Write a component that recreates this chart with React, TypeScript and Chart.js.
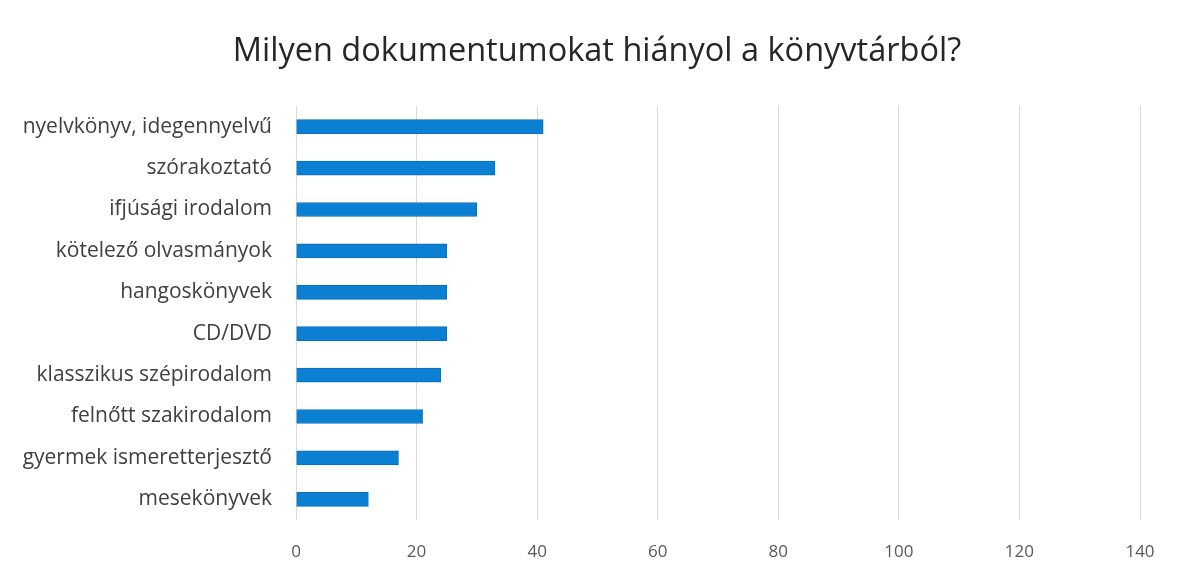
import React, { useEffect, useRef } from "react";
import { Chart, registerables } from "chart.js";

Chart.register(...registerables);

const categories = [
  "nyelvkönyv, idegennyelvű",
  "szórakoztató",
  "ifjúsági irodalom",
  "kötelező olvasmányok",
  "hangoskönyvek",
  "CD/DVD",
  "klasszikus szépirodalom",
  "felnőtt szakirodalom",
  "gyermek ismeretterjesztő",
  "mesekönyvek",
];
const values = [41, 33, 30, 25, 25, 25, 24, 21, 17, 12];
const xTicks = [0, 20, 40, 60, 80, 100, 120, 140];
const titleText = "Milyen dokumentumokat hiányol a könyvtárból?";

const FONT = "'Open Sans', Lato, sans-serif";

const titlePlugin = {
  id: "centerTitle",
  afterDraw(chart: any) {
    const ctx = chart.ctx;
    ctx.save();
    ctx.font = `32.5px ${FONT}`;
    ctx.fillStyle = "#262626";
    ctx.textAlign = "center";
    ctx.textBaseline = "alphabetic";
    ctx.fillText(titleText, 597, 61);
    ctx.restore();
  },
};

export default function App() {
  const ref = useRef<HTMLCanvasElement | null>(null);
  useEffect(() => {
    if (!ref.current) return;
    const chart = new Chart(ref.current, {
      type: "bar",
      data: {
        labels: categories,
        datasets: [
          {
            data: values,
            backgroundColor: "#0B80D2",
            borderColor: "#0A6FB8",
            borderWidth: 1,
            barThickness: 14,
          },
        ],
      },
      plugins: [titlePlugin],
      options: {
        indexAxis: "y",
        animation: false,
        responsive: false,
        maintainAspectRatio: false,
        layout: { padding: { left: 0, right: 47, top: 106, bottom: 0 } },
        plugins: {
          legend: { display: false },
          tooltip: { enabled: false },
          title: { display: false },
        },
        scales: {
          x: {
            min: 0,
            max: 140,
            afterBuildTicks: (s: any) => {
              s.ticks = xTicks.map((v) => ({ value: v }));
            },
            afterFit: (s: any) => {
              s.height = 60;
            },
            grid: { color: "#D9D9D9", drawTicks: false, lineWidth: 1 },
            border: { display: false },
            ticks: {
              color: "#595959",
              padding: 22,
              font: { family: FONT, size: 17 },
            },
          },
          y: {
            afterFit: (s: any) => {
              s.width = 296;
            },
            grid: { display: false, drawTicks: false },
            border: { display: false },
            ticks: {
              color: "#404040",
              padding: 24,
              font: { family: FONT, size: 21 },
            },
          },
        },
      },
    });
    return () => chart.destroy();
  }, []);
  return (
    <div style={{ position: "fixed", left: 0, top: 0, width: 1187, height: 580, background: "#fff" }}>
      <canvas ref={ref} width={1187} height={580} style={{ width: 1187, height: 580 }} />
    </div>
  );
}
